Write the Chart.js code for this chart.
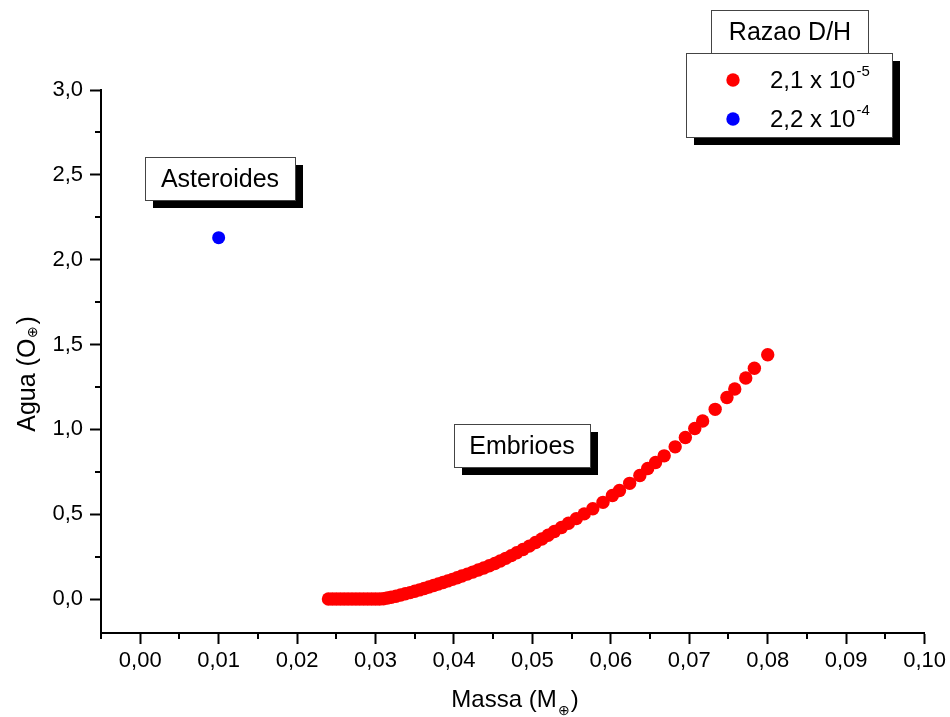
<!DOCTYPE html>
<html>
<head>
<meta charset="utf-8">
<style>
  html, body { margin: 0; padding: 0; background: #fff; }
  canvas { display: block; }
</style>
</head>
<body>
<canvas id="chartAgua" width="950" height="717"></canvas>
<script src="https://cdn.jsdelivr.net/npm/chart.js@4.4.1/dist/chart.umd.min.js"></script>
<script>
// Embryo masses (M_earth) and water content (O_earth), D/H = 2,1 x 10^-5
const embrioMassa = [
    0.0240, 0.0245, 0.0250, 0.0255, 0.0260, 0.0265, 0.0270, 0.0275, 0.0280, 0.0285,
    0.0290, 0.0295, 0.0300, 0.0305, 0.0310, 0.0315, 0.0320, 0.0326, 0.0332, 0.0338,
    0.0344, 0.0350, 0.0356, 0.0362, 0.0368, 0.0374, 0.0380, 0.0386, 0.0392, 0.0398,
    0.0404, 0.0410, 0.0417, 0.0424, 0.0431, 0.0438, 0.0445, 0.0452, 0.0459, 0.0466,
    0.0473, 0.0480, 0.0488, 0.0496, 0.0504, 0.0512, 0.0520, 0.0528, 0.0537, 0.0546,
    0.0556, 0.0566, 0.0577, 0.0590, 0.0602, 0.0611, 0.0624, 0.0637, 0.0647, 0.0657,
    0.0668, 0.0682, 0.0695, 0.0707, 0.0717, 0.0733, 0.0748, 0.0758, 0.0772, 0.0783,
    0.0800
];
const embrioAgua = [
    0.000, 0.000, 0.000, 0.000, 0.000, 0.000, 0.000, 0.000, 0.000, 0.000,
    0.000, 0.000, 0.000, 0.000, 0.002, 0.006, 0.011, 0.017, 0.024, 0.031,
    0.038, 0.046, 0.054, 0.062, 0.071, 0.080, 0.089, 0.098, 0.107, 0.116,
    0.126, 0.136, 0.147, 0.159, 0.171, 0.183, 0.196, 0.210, 0.224, 0.240,
    0.256, 0.273, 0.292, 0.312, 0.333, 0.354, 0.376, 0.398, 0.422, 0.447,
    0.474, 0.502, 0.532, 0.570, 0.610, 0.640, 0.682, 0.728, 0.769, 0.805,
    0.844, 0.897, 0.952, 1.005, 1.049, 1.118, 1.188, 1.238, 1.303, 1.360,
    1.440
];
// Asteroids, D/H = 2,2 x 10^-4
const asteroideMassa = [0.010];
const asteroideAgua = [2.13];

const legendBases = ['2,1 x 10', '2,2 x 10'];
const legendExps = ['-5', '-4'];
const seriesColors = ['#ff0000', '#0000ff'];

const xTicks = [0.00, 0.01, 0.02, 0.03, 0.04, 0.05, 0.06, 0.07, 0.08, 0.09, 0.10];
const xMinor = [-0.005, 0.005, 0.015, 0.025, 0.035, 0.045, 0.055, 0.065, 0.075, 0.085, 0.095];
const yTicks = [0.0, 0.5, 1.0, 1.5, 2.0, 2.5, 3.0];
const yMinor = [0.25, 0.75, 1.25, 1.75, 2.25, 2.75];

const FONT = 'Arial, "Liberation Sans", sans-serif';

function toPoints(xs, ys) {
    return xs.map((x, i) => ({ x: x, y: ys[i] }));
}

// box with black drop shadow, like the Origin labels
function shadowBox(ctx, x, y, w, h, shadow) {
    if (shadow) {
        ctx.fillStyle = '#000';
        ctx.fillRect(x + 8, y + 8, w, h);
    }
    ctx.fillStyle = '#fff';
    ctx.fillRect(x, y, w, h);
    ctx.strokeStyle = '#444';
    ctx.lineWidth = 1;
    ctx.strokeRect(x + 0.5, y + 0.5, w, h);
}

// text with a small subscript before the closing bracket
function subTitle(ctx, main, sub, end, size, subSize, drop) {
    ctx.font = size + 'px ' + FONT;
    const wMain = ctx.measureText(main).width;
    const wEnd = ctx.measureText(end).width;
    ctx.font = subSize + 'px ' + FONT;
    const wSub = ctx.measureText(sub).width;
    const x0 = -(wMain + wSub + wEnd + 2) / 2;
    ctx.font = size + 'px ' + FONT;
    ctx.fillText(main, x0, 0);
    ctx.font = subSize + 'px ' + FONT;
    ctx.fillText(sub, x0 + wMain + 1, drop);
    ctx.font = size + 'px ' + FONT;
    ctx.fillText(end, x0 + wMain + wSub + 2, 0);
}

const overlays = {
    id: 'overlays',
    afterDraw(chart) {
        const ctx = chart.ctx;
        const xs = chart.scales.x;
        const ys = chart.scales.y;
        const area = chart.chartArea;
        ctx.save();

        // minor ticks
        ctx.strokeStyle = '#000';
        ctx.lineWidth = 2;
        ctx.beginPath();
        xMinor.forEach(v => {
            const px = Math.round(xs.getPixelForValue(v));
            ctx.moveTo(px, area.bottom);
            ctx.lineTo(px, area.bottom + 6);
        });
        yMinor.forEach(v => {
            const py = Math.round(ys.getPixelForValue(v));
            ctx.moveTo(area.left, py);
            ctx.lineTo(area.left - 6, py);
        });
        ctx.stroke();

        // axis titles
        ctx.fillStyle = '#000';
        ctx.textBaseline = 'alphabetic';
        ctx.textAlign = 'left';
        ctx.save();
        ctx.translate(515, 707);
        subTitle(ctx, 'Massa (M', '\u2295', ')', 24, 14, 8);
        ctx.restore();

        ctx.save();
        ctx.translate(35, 374);
        ctx.rotate(-Math.PI / 2);
        subTitle(ctx, 'Agua (O', '\u2295', ')', 25, 14, 2);
        ctx.restore();

        // annotation labels
        ctx.font = '25px ' + FONT;
        ctx.textAlign = 'center';
        ctx.textBaseline = 'middle';
        shadowBox(ctx, 145, 157, 150, 43, true);
        ctx.fillStyle = '#000';
        ctx.fillText('Asteroides', 220, 180);
        shadowBox(ctx, 454, 424, 136, 43, true);
        ctx.fillStyle = '#000';
        ctx.fillText('Embrioes', 522, 447);

        // legend
        shadowBox(ctx, 686, 53, 206, 84, true);
        shadowBox(ctx, 711, 10, 157, 43, false);
        ctx.fillStyle = '#000';
        ctx.fillText('Razao D/H', 790, 33);

        const rowY = [88, 127];
        legendBases.forEach((txt, i) => {
            ctx.beginPath();
            ctx.fillStyle = seriesColors[i];
            ctx.arc(733, rowY[i] - 8, 6.7, 0, Math.PI * 2);
            ctx.fill();
            ctx.fillStyle = '#000';
            ctx.textAlign = 'left';
            ctx.textBaseline = 'alphabetic';
            ctx.font = '24px ' + FONT;
            ctx.fillText(txt, 770, rowY[i]);
            const w = ctx.measureText(txt).width;
            ctx.font = '15px ' + FONT;
            ctx.fillText(legendExps[i], 770 + w + 1, rowY[i] - 12);
        });

        ctx.restore();
    }
};

const chartAgua = new Chart(document.getElementById('chartAgua'), {
    type: 'scatter',
    data: {
        datasets: [
            {
                label: legendBases[0] + legendExps[0],
                data: toPoints(embrioMassa, embrioAgua),
                backgroundColor: seriesColors[0],
                borderWidth: 0,
                pointRadius: 6.7,
                pointHoverRadius: 6.7
            },
            {
                label: legendBases[1] + legendExps[1],
                data: toPoints(asteroideMassa, asteroideAgua),
                backgroundColor: seriesColors[1],
                borderWidth: 0,
                pointRadius: 6.5,
                pointHoverRadius: 6.5
            }
        ]
    },
    options: {
        responsive: false,
        devicePixelRatio: 1,
        animation: false,
        layout: {
            padding: { top: 90, right: 22, left: 0, bottom: 0 }
        },
        plugins: {
            legend: { display: false },
            tooltip: { enabled: false },
            title: { display: false }
        },
        scales: {
            x: {
                type: 'linear',
                min: -0.005,
                max: 0.10,
                afterBuildTicks: scale => { scale.ticks = xTicks.map(v => ({ value: v })); },
                afterFit: scale => { scale.height = 84; },
                border: { display: true, color: '#000', width: 2 },
                grid: {
                    drawOnChartArea: false,
                    drawTicks: true,
                    tickLength: 11,
                    tickWidth: 2,
                    tickColor: '#000'
                },
                ticks: {
                    autoSkip: false,
                    maxRotation: 0,
                    padding: 4,
                    color: '#000',
                    font: { family: FONT, size: 22 },
                    callback: v => v.toFixed(2).replace('.', ',')
                }
            },
            y: {
                type: 'linear',
                min: -0.2,
                max: 3.0,
                afterBuildTicks: scale => { scale.ticks = yTicks.map(v => ({ value: v })); },
                afterFit: scale => { scale.width = 101; },
                border: { display: true, color: '#000', width: 2 },
                grid: {
                    drawOnChartArea: false,
                    drawTicks: true,
                    tickLength: 11,
                    tickWidth: 2,
                    tickColor: '#000'
                },
                ticks: {
                    autoSkip: false,
                    padding: 7,
                    color: '#000',
                    font: { family: FONT, size: 22 },
                    callback: v => v.toFixed(1).replace('.', ',')
                }
            }
        }
    },
    plugins: [overlays]
});
</script>
</body>
</html>
